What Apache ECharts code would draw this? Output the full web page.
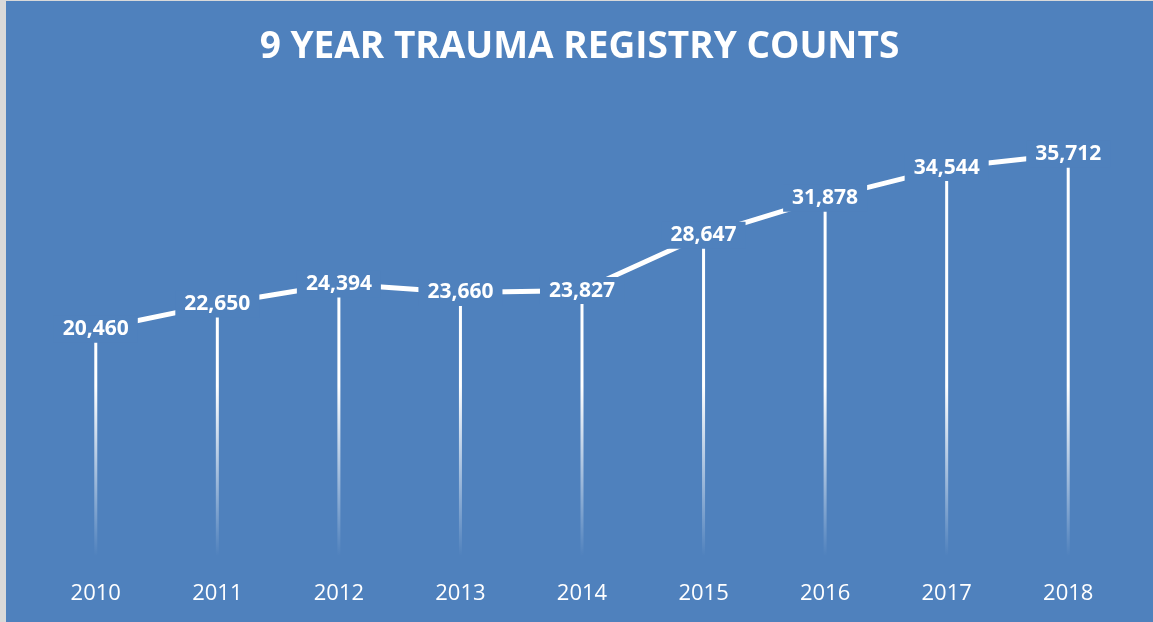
<!DOCTYPE html>
<html>
<head>
<meta charset="utf-8">
<script src="https://cdn.jsdelivr.net/npm/echarts@6/dist/echarts.min.js"></script>
<style>
  html, body { margin: 0; padding: 0; background: #d9d9d9; }
  #chart { position: absolute; left: 6px; top: 1px; width: 1147px; height: 621px; }
</style>
</head>
<body>
<div id="chart"></div>
<script>
var years = ['2010', '2011', '2012', '2013', '2014', '2015', '2016', '2017', '2018']
var counts = [20460, 22650, 24394, 23660, 23827, 28647, 31878, 34544, 35712]

var myChart = echarts.init(document.getElementById('chart'))

// drop lines fade out toward the bottom (page coords, chart is offset by 1px)
var dropColor = new echarts.graphic.LinearGradient(0, 385, 0, 555, [
  { offset: 0, color: 'rgba(255,255,255,1)' },
  { offset: 1, color: 'rgba(255,255,255,0)' }
], true)

var option = {
  backgroundColor: '#4F81BD',
  title: {
    text: '9 YEAR TRAUMA REGISTRY COUNTS',
    left: 'center',
    top: 23,
    textStyle: {
      color: '#ffffff',
      fontFamily: 'Open Sans',
      fontWeight: 'bold',
      fontSize: 37
    }
  },
  grid: { left: 29, right: 24, top: 104, bottom: 58 },
  xAxis: {
    type: 'category',
    data: years,
    axisLine: { show: false },
    axisTick: { show: false },
    axisLabel: {
      color: '#ffffff',
      fontFamily: 'Open Sans',
      fontSize: 22,
      margin: 19
    }
  },
  yAxis: {
    type: 'value',
    min: 0,
    max: 40000,
    show: false,
    splitLine: { show: false }
  },
  series: [{
    name: 'drop',
    type: 'bar',
    barWidth: 3,
    data: counts,
    itemStyle: { color: dropColor },
    silent: true,
    z: 1
  }, {
    name: 'count',
    type: 'line',
    data: counts,
    symbol: 'circle',
    symbolSize: 1,
    lineStyle: { color: '#ffffff', width: 5 },
    itemStyle: { color: '#ffffff' },
    z: 2,
    label: {
      show: true,
      position: 'inside',
      color: '#ffffff',
      fontFamily: 'Open Sans',
      fontWeight: 'bold',
      fontSize: 21,
      backgroundColor: '#4F81BD',
      padding: [3, 9],
      formatter: function (p) {
        return p.value.toLocaleString('en-US')
      }
    }
  }]
}

myChart.setOption(option)
</script>
</body>
</html>
